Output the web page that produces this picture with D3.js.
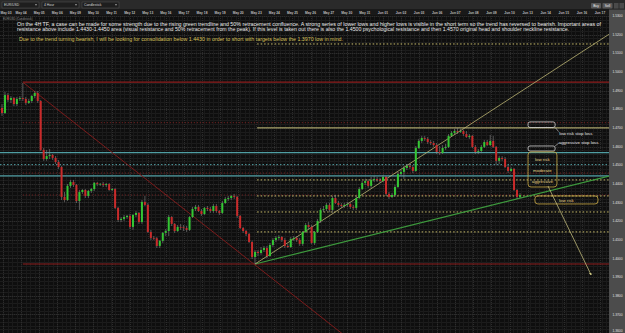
<!DOCTYPE html>
<html>
<head>
<meta charset="utf-8">
<script src="https://cdn.jsdelivr.net/npm/d3@7"></script>
<style>
  html, body { margin: 0; padding: 0; background: #0d0d0d; }
  svg { display: block; font-family: "Liberation Sans", Arial, sans-serif; }
</style>
</head>
<body>
<svg id="chart"></svg>
<script>
// EUR/USD 4H candles
const opens = [
  1.4807,1.4780,1.4876,1.4850,1.4860,1.4828,1.4855,1.4860,1.4855,1.4834,
  1.4844,1.4871,1.4887,1.4844,1.4582,1.4533,1.4549,1.4555,1.4539,1.4517,
  1.4490,1.4330,1.4313,1.4389,1.4410,1.4394,1.4308,1.4356,1.4367,1.4335,
  1.4362,1.4372,1.4405,1.4399,1.4400,1.4394,1.4399,1.4367,1.4372,1.4271,
  1.4206,1.4212,1.4222,1.4228,1.4169,1.4233,1.4244,1.4195,1.4303,1.4287,
  1.4142,1.4110,1.4108,1.4067,1.4094,1.4137,1.4147,1.4222,1.4185,1.4147,
  1.4169,1.4167,1.4163,1.4153,1.4222,1.4265,1.4276,1.4254,1.4238,1.4271,
  1.4265,1.4254,1.4281,1.4254,1.4244,1.4297,1.4319,1.4324,1.4335,1.4330,
  1.4228,1.4163,1.4147,1.4131,1.4088,1.4008,1.4035,1.4029,1.4045,1.4056,
  1.4013,1.4072,1.4099,1.4110,1.4115,1.4099,1.4067,1.4061,1.4104,1.4110,
  1.4099,1.4078,1.4142,1.4179,1.4169,1.4083,1.4142,1.4201,1.4260,1.4265,
  1.4287,1.4260,1.4324,1.4297,1.4287,1.4281,1.4287,1.4292,1.4276,1.4271,
  1.4324,1.4372,1.4405,1.4415,1.4389,1.4421,1.4426,1.4421,1.4415,1.4437,
  1.4346,1.4330,1.4340,1.4383,1.4453,1.4464,1.4485,1.4496,1.4490,1.4469,
  1.4592,1.4630,1.4646,1.4641,1.4624,1.4619,1.4608,1.4571,1.4565,1.4592,
  1.4598,1.4657,1.4673,1.4683,1.4678,1.4683,1.4667,1.4651,1.4657,1.4598,
  1.4571,1.4576,1.4598,1.4624,1.4608,1.4630,1.4598,1.4523,1.4539,1.4533,
  1.4490,1.4469,1.4480,1.4367,1.4330
];
const closes = [
  1.4780,1.4876,1.4850,1.4860,1.4828,1.4855,1.4860,1.4855,1.4834,1.4844,
  1.4871,1.4887,1.4844,1.4582,1.4533,1.4549,1.4555,1.4539,1.4517,1.4490,
  1.4330,1.4313,1.4389,1.4410,1.4394,1.4308,1.4356,1.4367,1.4335,1.4362,
  1.4372,1.4405,1.4399,1.4400,1.4394,1.4399,1.4367,1.4372,1.4271,1.4206,
  1.4212,1.4222,1.4228,1.4169,1.4233,1.4244,1.4195,1.4303,1.4287,1.4142,
  1.4110,1.4108,1.4067,1.4094,1.4137,1.4147,1.4222,1.4185,1.4147,1.4169,
  1.4167,1.4163,1.4153,1.4222,1.4265,1.4276,1.4254,1.4238,1.4271,1.4265,
  1.4254,1.4281,1.4254,1.4244,1.4297,1.4319,1.4324,1.4335,1.4330,1.4228,
  1.4163,1.4147,1.4131,1.4088,1.4008,1.4035,1.4029,1.4045,1.4056,1.4013,
  1.4072,1.4099,1.4110,1.4115,1.4099,1.4067,1.4061,1.4104,1.4110,1.4099,
  1.4078,1.4142,1.4179,1.4169,1.4083,1.4142,1.4201,1.4260,1.4265,1.4287,
  1.4260,1.4324,1.4297,1.4287,1.4281,1.4287,1.4292,1.4276,1.4271,1.4324,
  1.4372,1.4405,1.4415,1.4389,1.4421,1.4426,1.4421,1.4415,1.4437,1.4346,
  1.4330,1.4340,1.4383,1.4453,1.4464,1.4485,1.4496,1.4490,1.4469,1.4592,
  1.4630,1.4646,1.4641,1.4624,1.4619,1.4608,1.4571,1.4565,1.4592,1.4598,
  1.4657,1.4673,1.4683,1.4678,1.4683,1.4667,1.4651,1.4657,1.4598,1.4571,
  1.4576,1.4598,1.4624,1.4608,1.4630,1.4598,1.4523,1.4539,1.4533,1.4490,
  1.4469,1.4480,1.4367,1.4330,1.4340
];
const highs = [
  1.4828,1.4893,1.4887,1.4871,1.4866,1.4866,1.4871,1.4941,1.4866,1.4855,
  1.4876,1.4898,1.4898,1.4850,1.4592,1.4582,1.4587,1.4560,1.4549,1.4528,
  1.4496,1.4356,1.4399,1.4421,1.4421,1.4399,1.4367,1.4372,1.4372,1.4367,
  1.4378,1.4410,1.4410,1.4405,1.4410,1.4405,1.4405,1.4378,1.4378,1.4276,
  1.4222,1.4233,1.4233,1.4238,1.4238,1.4254,1.4249,1.4313,1.4335,1.4297,
  1.4153,1.4120,1.4115,1.4099,1.4142,1.4158,1.4233,1.4228,1.4190,1.4179,
  1.4185,1.4179,1.4174,1.4228,1.4276,1.4287,1.4287,1.4265,1.4276,1.4281,
  1.4276,1.4292,1.4292,1.4260,1.4308,1.4330,1.4335,1.4340,1.4346,1.4335,
  1.4233,1.4169,1.4153,1.4137,1.4094,1.4045,1.4045,1.4061,1.4067,1.4067,
  1.4083,1.4110,1.4120,1.4126,1.4120,1.4110,1.4078,1.4115,1.4120,1.4120,
  1.4110,1.4147,1.4190,1.4195,1.4179,1.4147,1.4212,1.4271,1.4281,1.4297,
  1.4297,1.4335,1.4340,1.4308,1.4297,1.4297,1.4303,1.4297,1.4287,1.4335,
  1.4383,1.4415,1.4426,1.4426,1.4437,1.4442,1.4437,1.4431,1.4447,1.4442,
  1.4356,1.4351,1.4394,1.4464,1.4474,1.4496,1.4506,1.4506,1.4501,1.4603,
  1.4641,1.4657,1.4657,1.4651,1.4635,1.4630,1.4619,1.4603,1.4608,1.4614,
  1.4667,1.4683,1.4694,1.4700,1.4694,1.4689,1.4683,1.4667,1.4662,1.4608,
  1.4587,1.4608,1.4635,1.4635,1.4662,1.4657,1.4603,1.4549,1.4549,1.4544,
  1.4501,1.4490,1.4485,1.4372,1.4351
];
const lows = [
  1.4764,1.4775,1.4839,1.4834,1.4817,1.4817,1.4844,1.4844,1.4823,1.4828,
  1.4834,1.4860,1.4834,1.4576,1.4523,1.4523,1.4533,1.4528,1.4506,1.4480,
  1.4313,1.4303,1.4308,1.4378,1.4383,1.4297,1.4260,1.4346,1.4324,1.4324,
  1.4351,1.4362,1.4389,1.4389,1.4383,1.4383,1.4362,1.4362,1.4265,1.4195,
  1.4195,1.4201,1.4212,1.4158,1.4153,1.4222,1.4185,1.4185,1.4281,1.4137,
  1.4099,1.4099,1.4056,1.4056,1.4083,1.4120,1.4120,1.4174,1.4137,1.4142,
  1.4153,1.4147,1.4142,1.4147,1.4217,1.4254,1.4249,1.4228,1.4233,1.4254,
  1.4244,1.4244,1.4244,1.4233,1.4238,1.4292,1.4308,1.4313,1.4319,1.4217,
  1.4158,1.4137,1.4120,1.4083,1.3997,1.3970,1.4013,1.4019,1.4035,1.4002,
  1.4008,1.4061,1.4088,1.4099,1.4088,1.4056,1.4056,1.4056,1.4094,1.4088,
  1.4067,1.4067,1.4137,1.4158,1.4078,1.4072,1.4137,1.4190,1.4249,1.4254,
  1.4249,1.4244,1.4292,1.4276,1.4271,1.4271,1.4276,1.4265,1.4260,1.4260,
  1.4319,1.4367,1.4394,1.4378,1.4378,1.4410,1.4410,1.4405,1.4410,1.4335,
  1.4319,1.4324,1.4330,1.4378,1.4442,1.4426,1.4474,1.4480,1.4458,1.4464,
  1.4587,1.4619,1.4630,1.4614,1.4608,1.4598,1.4560,1.4555,1.4560,1.4582,
  1.4592,1.4651,1.4667,1.4667,1.4673,1.4657,1.4646,1.4641,1.4592,1.4560,
  1.4560,1.4565,1.4592,1.4603,1.4603,1.4592,1.4501,1.4506,1.4523,1.4485,
  1.4458,1.4464,1.4362,1.4319,1.4324
];

const days = ['May 03','May 04','May 05','May 06','May 09','May 10','May 11','May 12','May 13',
  'May 16','May 17','May 18','May 19','May 20','May 23','May 24','May 25','May 26','May 27',
  'May 30','May 31','Jun 01','Jun 02','Jun 03','Jun 06','Jun 07','Jun 08','Jun 09','Jun 10',
  'Jun 13','Jun 14','Jun 15','Jun 16','Jun 17'];
const priceTicks = [1.53,1.52,1.51,1.50,1.49,1.48,1.47,1.46,1.45,1.44,1.43,1.42,1.41,1.40,1.39,1.38,1.37,1.36];

// horizontal levels: price, first candle it starts at, kind
const levelPrices = [1.5150, 1.4945, 1.4728, 1.4700, 1.4567, 1.4503, 1.4458, 1.4443, 1.4421, 1.4340, 1.4335, 1.4249, 1.4142, 1.3970];
const levelStarts = [85.7, 7, 7, 85.7, -1, -1, 7, -1, 85.7, 7, 85.7, 85.7, 85.7, 7];
const levelKinds  = ['fib','red','redDot','top','cyan','cyanDot','redDot','cyan','fib','redDot','fib','fib','fib','red'];

// trend lines: [start index, start price, end index, end price]
const downTrend = [7, 1.4945, 118, 1.3550];
const greenTrend = [85, 1.3970, 204, 1.4442];
const channelLine = [85, 1.3970, 204, 1.5203];
const targetArrow = [183.4, 1.4388, 197.9, 1.3911];

const header = [
  'On the 4H TF, a case can be made for some strength due to the rising green trendline and 50% retracement confluence. A strong series of lower lows and higher lows is visible in the short term so the trend has reversed to bearish. Important areas of',
  'resistance above include 1.4430-1.4450 area (visual resistance and 50% retracement from the peak). If this level is taken out there is also the 1.4500 psychological resistance and then 1.4570 original head and shoulder neckline resistance.',
  'Due to the trend turning bearish, I will be looking for consolidation below 1.4430 in order to short with targets below the 1.3970 low in mind.'
];
const entryLabels = ['low risk', 'moderate', 'aggressive'];
const entryPrices = [1.4533, 1.4474, 1.4415];

const W = 625, H = 333;
const plotRight = 609, plotTop = 16;

const svg = d3.select('#chart').attr('width', W).attr('height', H);

const x = d3.scaleLinear().domain([0, closes.length - 1]).range([2, 520]);
const y = d3.scaleLinear().domain([1.36, 1.53]).range([333, 16]);
const xDay = d3.scalePoint().domain(days).range([3, 600]);

svg.append('defs').append('clipPath').attr('id', 'plot-clip')
  .append('rect').attr('x', 0).attr('y', plotTop).attr('width', plotRight).attr('height', H - plotTop);
svg.select('defs').append('marker')
  .attr('id', 'arrow').attr('viewBox', '0 0 6 6').attr('refX', 5).attr('refY', 3)
  .attr('markerWidth', 4).attr('markerHeight', 4).attr('orient', 'auto')
  .append('path').attr('d', 'M0,0 L6,3 L0,6 Z').attr('fill', '#d6cf86');

// background
svg.append('rect').attr('width', W).attr('height', H).attr('fill', '#0e0e0e');

const plot = svg.append('g').attr('clip-path', 'url(#plot-clip)');

// grid
plot.append('g').selectAll('line').data(y.ticks(68)).join('line')
  .attr('x1', 0).attr('x2', plotRight)
  .attr('y1', d => Math.round(y(d)) + 0.5).attr('y2', d => Math.round(y(d)) + 0.5)
  .attr('stroke', '#1c1c1c').attr('stroke-width', 1);
plot.append('g').selectAll('line').data(d3.range(-1, 204, 1.5)).join('line')
  .attr('x1', d => Math.round(x(d)) + 0.5).attr('x2', d => Math.round(x(d)) + 0.5)
  .attr('y1', plotTop).attr('y2', H)
  .attr('stroke', '#1a1a1a').attr('stroke-width', 1);
plot.append('g').selectAll('line').data(priceTicks).join('line')
  .attr('x1', 0).attr('x2', plotRight)
  .attr('y1', d => Math.round(y(d)) + 0.5).attr('y2', d => Math.round(y(d)) + 0.5)
  .attr('stroke', '#2c2c2c').attr('stroke-dasharray', '1,1');
plot.append('g').selectAll('line').data(days).join('line')
  .attr('x1', d => Math.round(xDay(d)) + 0.5).attr('x2', d => Math.round(xDay(d)) + 0.5)
  .attr('y1', plotTop).attr('y2', H)
  .attr('stroke', '#2c2c2c').attr('stroke-dasharray', '1,1');

// horizontal levels
const levelStyle = {
  red:     { stroke: '#8e1c1c', dash: null, w: 1.2 },
  redDot:  { stroke: '#7a2222', dash: '1,2', w: 1 },
  cyan:    { stroke: '#4f9ea3', dash: null, w: 1.2 },
  cyanDot: { stroke: '#4f9ea3', dash: '1.5,2', w: 1 },
  top:     { stroke: '#c8c07a', dash: null, w: 1 },
  fib:     { stroke: '#c9bd6a', dash: '1.5,2', w: 1 }
};
plot.append('g').selectAll('line').data(levelPrices).join('line')
  .attr('x1', (d, i) => levelStarts[i] < 0 ? 0 : x(levelStarts[i]))
  .attr('x2', plotRight)
  .attr('y1', d => y(d)).attr('y2', d => y(d))
  .attr('stroke', (d, i) => levelStyle[levelKinds[i]].stroke)
  .attr('stroke-width', (d, i) => levelStyle[levelKinds[i]].w)
  .attr('stroke-dasharray', (d, i) => levelStyle[levelKinds[i]].dash);

// trend lines
function trend(t, color, w) {
  return plot.append('line')
    .attr('x1', x(t[0])).attr('y1', y(t[1]))
    .attr('x2', x(t[2])).attr('y2', y(t[3]))
    .attr('stroke', color).attr('stroke-width', w);
}
trend(downTrend, '#7c1b1b', 1);
trend(greenTrend, '#3d9a3d', 1.2);
trend(channelLine, '#bdb574', 0.8);

// candles
const idx = d3.range(closes.length);
plot.append('g').selectAll('line').data(idx).join('line')
  .attr('x1', i => x(i)).attr('x2', i => x(i))
  .attr('y1', i => y(highs[i])).attr('y2', i => y(lows[i]))
  .attr('stroke', '#8a8a8a').attr('stroke-width', 0.6);
plot.append('g').selectAll('rect').data(idx).join('rect')
  .attr('x', i => x(i) - 1)
  .attr('width', 2)
  .attr('y', i => y(Math.max(opens[i], closes[i])))
  .attr('height', i => Math.max(0.8, Math.abs(y(opens[i]) - y(closes[i]))))
  .attr('fill', i => closes[i] >= opens[i] ? '#33c733' : '#c92a2a');

// annotations
const ann = plot.append('g');
function box(i0, i1, p0, p1, color, r) {
  ann.append('rect')
    .attr('x', x(i0)).attr('y', y(p0))
    .attr('width', x(i1) - x(i0)).attr('height', y(p1) - y(p0))
    .attr('rx', r).attr('ry', r)
    .attr('fill', 'none').attr('stroke', color).attr('stroke-width', 0.8);
}
box(176.7, 185.8, 1.4732, 1.4702, '#d0d0d0', 2);
box(176.7, 185.8, 1.4603, 1.4576, '#d0d0d0', 2);
box(176.7, 186.4, 1.4571, 1.4383, '#c9aa44', 3);
box(179.0, 200.2, 1.4335, 1.4292, '#c9aa44', 3);

ann.append('line').attr('x1', x(185.8)).attr('y1', y(1.4702)).attr('x2', x(187.0)).attr('y2', y(1.4680))
  .attr('stroke', '#d0d0d0').attr('stroke-width', 0.6);
ann.append('line').attr('x1', x(185.8)).attr('y1', y(1.4603)).attr('x2', x(187.0)).attr('y2', y(1.4618))
  .attr('stroke', '#d0d0d0').attr('stroke-width', 0.6);
ann.append('text').attr('x', x(187.2)).attr('y', y(1.4673) + 1.6)
  .attr('font-size', 4.4).attr('fill', '#e6e6e6').text('low risk stop loss');
ann.append('text').attr('x', x(187.0)).attr('y', y(1.4624) + 1.6)
  .attr('font-size', 4.4).attr('fill', '#e6e6e6').text('aggressive stop loss');

ann.selectAll('.entry').data(entryLabels).join('text')
  .attr('class', 'entry')
  .attr('x', x(181.5)).attr('y', (d, i) => y(entryPrices[i]) + 1.6)
  .attr('text-anchor', 'middle').attr('font-size', 4.4).attr('fill', '#e8d88a')
  .text(d => d);
ann.append('text').attr('x', x(189.6)).attr('y', y(1.4313) + 1.6)
  .attr('text-anchor', 'middle').attr('font-size', 4.4).attr('fill', '#e8d88a').text('low risk');

plot.append('line')
  .attr('x1', x(targetArrow[0])).attr('y1', y(targetArrow[1]))
  .attr('x2', x(targetArrow[2])).attr('y2', y(targetArrow[3]))
  .attr('stroke', '#d6cf86').attr('stroke-width', 0.7)
  .attr('marker-end', 'url(#arrow)');

// header commentary
const headY = [26, 31.3, 41];
const headX = [17, 17, 19];
const headLen = [584, 552, 324];
svg.append('g').selectAll('text').data(header).join('text')
  .attr('x', (d, i) => headX[i]).attr('y', (d, i) => headY[i])
  .attr('font-size', 5.1)
  .attr('textLength', (d, i) => headLen[i]).attr('lengthAdjust', 'spacingAndGlyphs')
  .attr('fill', (d, i) => i === 2 ? '#d9c25a' : '#ececec')
  .text(d => d);

// top toolbar and date strip
svg.append('rect').attr('x', 0).attr('y', 0).attr('width', W).attr('height', 9.5).attr('fill', '#2a2a2a');
svg.append('rect').attr('x', 0).attr('y', 9.5).attr('width', W).attr('height', 6).attr('fill', '#191919');
const combos = ['EUR/USD', '4 Hour', 'Candlestick'];
const comboX = [2, 42, 82];
const tb = svg.append('g');
tb.selectAll('rect').data(combos).join('rect')
  .attr('x', (d, i) => comboX[i]).attr('y', 2).attr('width', 37).attr('height', 6)
  .attr('fill', '#1e1e1e').attr('stroke', '#555').attr('stroke-width', 0.5);
tb.selectAll('text').data(combos).join('text')
  .attr('x', (d, i) => comboX[i] + 2).attr('y', 6.3)
  .attr('font-size', 3.4).attr('fill', '#d8d8d8').text(d => d);
tb.selectAll('path').data(combos).join('path')
  .attr('d', (d, i) => `M${comboX[i] + 33},4.2 l2,0 l-1,1.6 z`).attr('fill', '#bbb');

const btns = ['Buy', 'Sell'];
const btnX = [591, 602.5];
svg.append('g').selectAll('rect').data(btns).join('rect')
  .attr('x', (d, i) => btnX[i]).attr('y', 3).attr('width', 10).attr('height', 5.5).attr('rx', 0.8)
  .attr('fill', '#585858');
svg.append('g').selectAll('text').data(btns).join('text')
  .attr('x', (d, i) => btnX[i] + 5).attr('y', 6.9).attr('text-anchor', 'middle')
  .attr('font-size', 3.3).attr('fill', '#eee').text(d => d);
svg.append('rect').attr('x', 614).attr('y', 3).attr('width', 4.5).attr('height', 5.5).attr('fill', '#4a4a4a');
svg.append('rect').attr('x', 619.5).attr('y', 3).attr('width', 4.5).attr('height', 5.5).attr('fill', '#4a4a4a');

svg.append('g').selectAll('text').data(days).join('text')
  .attr('x', (d, i) => i === 0 ? 0.5 : xDay(d)).attr('y', 14.2)
  .attr('text-anchor', (d, i) => i === 0 ? 'start' : 'middle')
  .attr('font-size', 3.3).attr('font-weight', 'bold')
  .attr('fill', '#bdbdbd').text(d => d);
svg.append('text').attr('x', 3).attr('y', 19.5).attr('font-size', 2.8).attr('fill', '#8a8a8a')
  .text('EUR/USD (Candlestick)');

// right price axis
svg.append('rect').attr('x', plotRight).attr('y', 9.5).attr('width', W - plotRight).attr('height', H)
  .attr('fill', '#4c4c4c');
svg.append('g').selectAll('text').data(priceTicks).join('text')
  .attr('x', 617.5).attr('y', d => Math.min(y(d) + 1.2, 331.5))
  .attr('text-anchor', 'middle').attr('font-size', 3.3).attr('fill', '#e2e2e2')
  .text(d => d.toFixed(4));
</script>
</body>
</html>
